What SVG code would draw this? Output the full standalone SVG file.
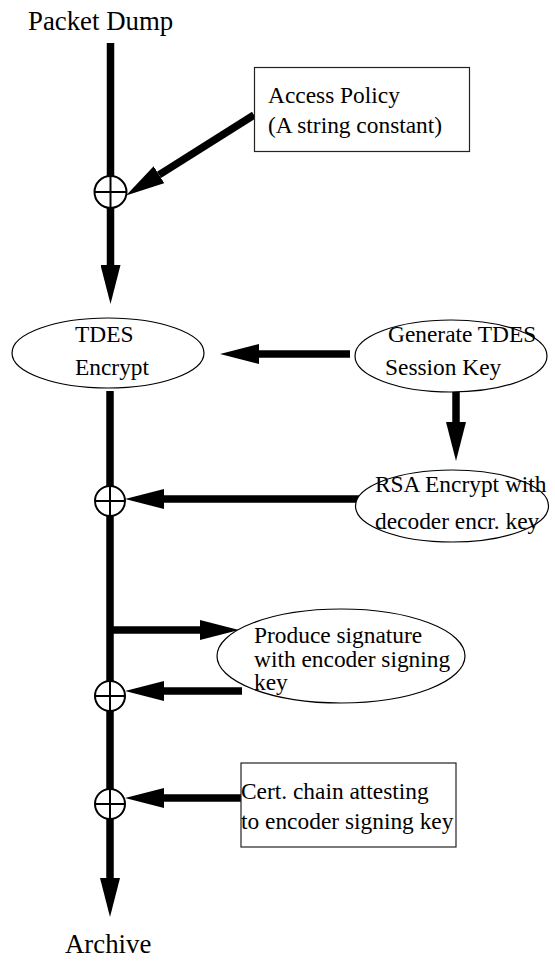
<svg xmlns="http://www.w3.org/2000/svg" width="555" height="963" viewBox="0 0 555 963">
<style>
text { font-family: "Liberation Serif", "Times New Roman", serif; font-size: 23.4px; fill: #000; }
.big { font-size: 26.8px; }
.shape { fill: #fff; stroke: #000; stroke-width: 1.2; }
.box { fill: #fff; stroke: #222; stroke-width: 1.2; }
.flow { stroke: #000; stroke-width: 7.5; fill: none; stroke-linecap: butt; }
.xor { fill: #fff; stroke: #000; stroke-width: 2; }
.cross { stroke: #000; stroke-width: 2; }
</style>
<defs>
<marker id="ah" markerUnits="userSpaceOnUse" markerWidth="40" markerHeight="20" refX="0" refY="10" orient="auto" viewBox="0 0 40 20">
<path d="M0,0 L39,10 L0,20 z" fill="#000"/>
</marker>
</defs>

<g id="connectors">
<line class="flow" x1="110.5" y1="43" x2="110.5" y2="177"/>
<line class="flow" x1="110.5" y1="207" x2="110.5" y2="265" marker-end="url(#ah)"/>
<line class="flow" x1="254" y1="115" x2="159" y2="174.8" marker-end="url(#ah)"/>
<line class="flow" x1="350" y1="354" x2="259" y2="354" marker-end="url(#ah)"/>
<line class="flow" x1="456" y1="391" x2="456" y2="422" marker-end="url(#ah)"/>
<line class="flow" x1="110" y1="391" x2="110" y2="487"/>
<line class="flow" x1="110" y1="515" x2="110" y2="682"/>
<line class="flow" x1="110" y1="710" x2="110" y2="790"/>
<line class="flow" x1="110" y1="818" x2="110" y2="878" marker-end="url(#ah)"/>
<line class="flow" x1="362" y1="499" x2="164" y2="499" marker-end="url(#ah)"/>
<line class="flow" x1="110" y1="630" x2="200" y2="630" marker-end="url(#ah)"/>
<line class="flow" x1="242" y1="691" x2="164" y2="691" marker-end="url(#ah)"/>
<line class="flow" x1="241" y1="798" x2="164" y2="798" marker-end="url(#ah)"/>
</g>

<g id="xor1"><circle class="xor" cx="110.5" cy="192" r="16"/><line class="cross" x1="94.5" y1="192" x2="126.5" y2="192"/><line class="cross" x1="110.5" y1="176" x2="110.5" y2="208"/></g>
<g id="xor2"><circle class="xor" cx="110" cy="501" r="15"/><line class="cross" x1="95" y1="501" x2="125" y2="501"/><line class="cross" x1="110" y1="486" x2="110" y2="516"/></g>
<g id="xor3"><circle class="xor" cx="110" cy="696" r="15"/><line class="cross" x1="95" y1="696" x2="125" y2="696"/><line class="cross" x1="110" y1="681" x2="110" y2="711"/></g>
<g id="xor4"><circle class="xor" cx="110" cy="804" r="15"/><line class="cross" x1="95" y1="804" x2="125" y2="804"/><line class="cross" x1="110" y1="789" x2="110" y2="819"/></g>

<g id="packet-dump"><text class="big" x="28" y="29.5">Packet Dump</text></g>

<g id="access-policy">
<rect class="box" x="254.5" y="67.5" width="215" height="84"/>
<text x="268" y="103">Access Policy</text>
<text x="268" y="133">(A string constant)</text>
</g>

<g id="tdes-encrypt">
<ellipse class="shape" cx="108" cy="353" rx="96" ry="35"/>
<text x="75" y="341.5">TDES</text>
<text x="75" y="375">Encrypt</text>
</g>

<g id="generate-key">
<ellipse class="shape" cx="451" cy="356" rx="96" ry="36"/>
<text x="388" y="341.5">Generate TDES</text>
<text x="385" y="375">Session Key</text>
</g>

<g id="rsa-encrypt">
<ellipse class="shape" cx="452" cy="506" rx="96.5" ry="36"/>
<text x="375" y="492">RSA Encrypt with</text>
<text x="375" y="528.5">decoder encr. key</text>
</g>

<g id="produce-signature">
<ellipse class="shape" cx="341" cy="656" rx="124" ry="47"/>
<text x="254" y="643.3">Produce signature</text>
<text x="254" y="666.7">with encoder signing</text>
<text x="254" y="690">key</text>
</g>

<g id="cert-chain">
<rect class="box" x="241" y="763" width="215" height="84"/>
<text x="241" y="799.3">Cert. chain attesting</text>
<text x="241" y="829.3">to encoder signing key</text>
</g>

<g id="archive"><text class="big" x="65" y="953.3">Archive</text></g>
</svg>
